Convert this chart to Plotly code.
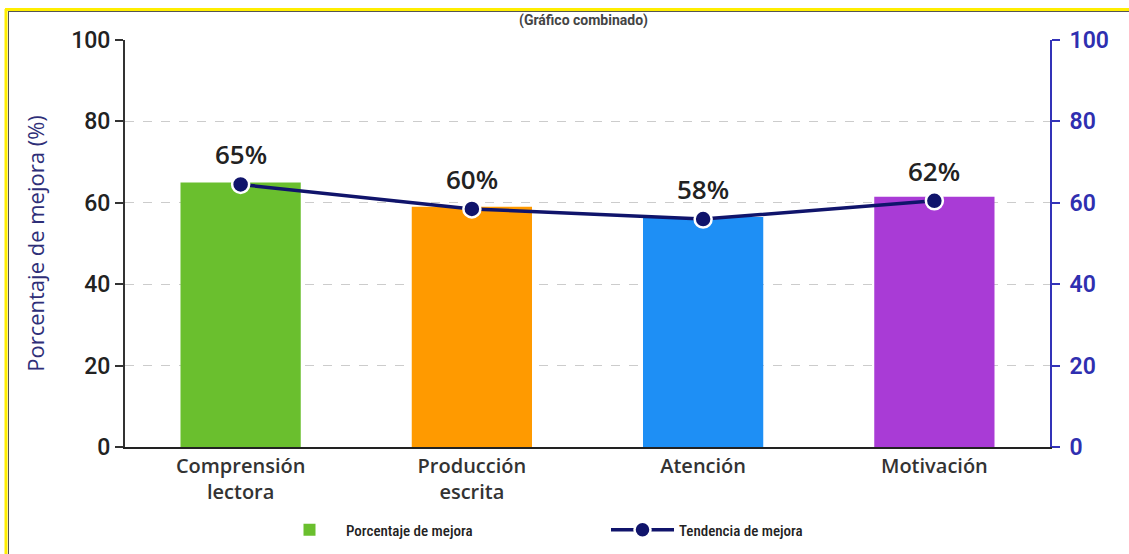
import plotly.graph_objects as go

categories = ["Comprensión<br>lectora", "Producción<br>escrita", "Atención", "Motivación"]
bar_values = [65, 59, 56.5, 61.5]
line_values = [64.5, 58.5, 56, 60.5]
point_labels = ["65%", "60%", "58%", "62%"]
bar_colors = ["#6abf2e", "#ff9a00", "#1e8ff5", "#a93bd6"]
y_ticks = [0, 20, 40, 60, 80, 100]
title_text = "(Gráfico combinado)"

W, H = 1129, 554
L, R, T, B = 125, 79, 11, 107
PX0, PX1 = L, W - R
PY0, PY1 = T, H - B  # top, bottom of full plot area
main_top = 40
dom_top = (PY1 - main_top) / (PY1 - PY0)

def px_x(px):
    return (px - PX0) / (PX1 - PX0)

def px_y(py):
    return (PY1 - py) / (PY1 - PY0)

narrow = "Liberation Sans Narrow, Roboto Condensed, Roboto, sans-serif"

fig = go.Figure()
fig.add_trace(go.Bar(
    x=categories, y=bar_values, name="Porcentaje de mejora",
    marker=dict(color=bar_colors, line=dict(width=0)),
    width=0.52, yaxis="y", hoverinfo="skip"))
fig.add_trace(go.Scatter(
    x=categories, y=line_values, name="Tendencia de mejora", yaxis="y2",
    mode="lines+markers",
    line=dict(color="#10146b", width=3.5),
    marker=dict(size=17, color="#10146b", line=dict(color="white", width=2.5))))

for cat, v, lab in zip(categories, line_values, point_labels):
    fig.add_annotation(x=cat, y=v, xref="x", yref="y2", text=lab, showarrow=False,
                       yshift=30, font=dict(size=26, color="#222222", family="Open Sans", weight=600))

# title (only a sliver is visible in the reference) kept small, just under the frame line
fig.add_annotation(x=px_x(583), y=px_y(20), xref="paper", yref="paper", text=title_text,
                   showarrow=False, xanchor="center", yanchor="middle",
                   font=dict(size=14, color="#444444", family="Roboto", weight=700))

shapes = [
    dict(type="line", xref="paper", yref="paper", x0=px_x(6), x1=px_x(6), y0=px_y(9), y1=px_y(560),
         line=dict(color="#ffee00", width=3)),
    dict(type="line", xref="paper", yref="paper", x0=px_x(8.5), x1=px_x(8.5), y0=px_y(11), y1=px_y(560),
         line=dict(color="#555555", width=1)),
    dict(type="line", xref="paper", yref="paper", x0=px_x(5), x1=px_x(1140), y0=px_y(9.5), y1=px_y(9.5),
         line=dict(color="#ffee00", width=3)),
    dict(type="line", xref="paper", yref="paper", x0=px_x(8), x1=px_x(1140), y0=px_y(11.5), y1=px_y(11.5),
         line=dict(color="#555555", width=1)),
]

fig.update_layout(
    width=W, height=H,
    margin=dict(l=L, r=R, t=T, b=B, autoexpand=False),
    paper_bgcolor="white", plot_bgcolor="white",
    showlegend=True,
    legend=dict(orientation="h", x=px_x(273), xanchor="left", y=px_y(530), yanchor="middle",
                font=dict(size=15, color="#222222", family=narrow, weight=500), itemwidth=63,
                entrywidth=255, entrywidthmode="pixels",
                traceorder="normal", bgcolor="rgba(0,0,0,0)"),
    bargap=0.48,
    shapes=shapes,
    xaxis=dict(domain=[0, 1], showline=True, linecolor="#222222", linewidth=2,
               ticks="", tickfont=dict(size=20, color="#333333", family="Open Sans", weight=600),
               showgrid=False, fixedrange=True, anchor="y", automargin=False),
    yaxis=dict(domain=[0, dom_top], range=[0, 100], tickvals=y_ticks,
               showline=True, linecolor="#333333", linewidth=2,
               ticks="outside", ticklen=8, tickcolor="#333333", tickwidth=1.5,
               ticklabelstandoff=0,
               tickfont=dict(size=23, color="#222222", family="Roboto", weight=500),
               showgrid=True, gridcolor="#cccccc", griddash="dash", gridwidth=1,
               zeroline=False, automargin=False,
               title=dict(text="Porcentaje de mejora (%)", standoff=20,
                          font=dict(size=22, color="#2e2e78", family="Open Sans", weight=500)),
               anchor="x"),
    yaxis2=dict(overlaying="y", side="right", range=[0, 100], tickvals=y_ticks,
                showline=True, linecolor="#3333b8", linewidth=2,
                ticks="outside", ticklen=8, tickcolor="#3333b8", tickwidth=1.5,
                ticklabelstandoff=5,
                tickfont=dict(size=23, color="#2f2fb0", family="Roboto", weight=600),
                showgrid=False, zeroline=False, anchor="x", automargin=False),
)

fig.write_html("out.html")
